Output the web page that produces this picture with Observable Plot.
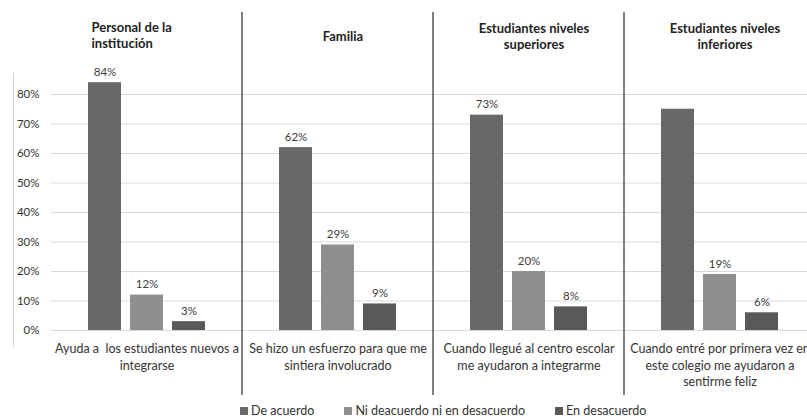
<!DOCTYPE html>
<html>
<head>
<meta charset="utf-8">
<script src="https://cdn.jsdelivr.net/npm/d3@7"></script>
<script src="https://cdn.jsdelivr.net/npm/@observablehq/plot@0.6"></script>
<style>
  html, body { margin: 0; padding: 0; background: #fff; overflow: hidden; width: 807px; height: 420px; }
  #wrap { position: relative; width: 815px; height: 420px; font-family: Lato, "Open Sans", sans-serif; }
  #wrap svg text { white-space: pre; }
  .frame-edge { position: absolute; left: 13px; top: 73px; height: 274px; border-left: 1px solid #d4d4d4; }
  .legend { position: absolute; left: 240px; top: 403px; display: flex; font-size: 12.5px; color: #333; }
  .legend span { display: flex; align-items: center; margin-right: 30px; }
  .legend i { display: inline-block; width: 8px; height: 8px; margin-right: 3px; }
</style>
</head>
<body>
<div id="wrap"><div class="frame-edge"></div></div>
<script>
// Group headers (who helped) and the survey statement asked in each group
const groups = ["Personal de la\ninstitución", "Familia", "Estudiantes niveles\nsuperiores", "Estudiantes niveles\ninferiores"];
const statements = [
  "Ayuda a  los estudiantes nuevos a\nintegrarse",
  "Se hizo un esfuerzo para que me\nsintiera involucrado",
  "Cuando llegué al centro escolar\nme ayudaron a integrarme",
  "Cuando entré por primera vez en\neste colegio me ayudaron a\nsentirme feliz"
];
const responses = ["De acuerdo", "Ni deacuerdo ni en desacuerdo", "En desacuerdo"];
const colors = ["#68686b", "#8f8f91", "#59595b"];

// Percentages per group, one array per response
const deAcuerdo = [84, 62, 73, 75];
const niDeacuerdo = [12, 29, 20, 19];
const enDesacuerdo = [3, 9, 8, 6];
// The last group's "De acuerdo" bar carries no value label
const unlabeled = [[3, "De acuerdo"]];

const yTicks = [0, 10, 20, 30, 40, 50, 60, 70, 80];

const series = [deAcuerdo, niDeacuerdo, enDesacuerdo];
const rows = [];
groups.forEach((g, i) => {
  responses.forEach((r, j) => {
    rows.push({
      group: g, response: r, value: series[j][i],
      labeled: !unlabeled.some(([gi, rr]) => gi === i && rr === r)
    });
  });
});
const groupRows = groups.map((g, i) => ({group: g, statement: statements[i]}));

const chart = Plot.plot({
  width: 815,
  height: 400,
  marginLeft: 50,
  marginRight: 0,
  marginTop: 64.5,
  marginBottom: 70,
  style: {fontFamily: "Lato, 'Open Sans', sans-serif", fontSize: "11.5px", color: "#333", background: "#fff", overflow: "visible"},
  fx: {domain: groups, padding: 0, axis: null},
  x: {domain: responses, paddingInner: 0.224, paddingOuter: 0.859, axis: null},
  y: {domain: [0, 90], axis: null},
  color: {domain: responses, range: colors},
  marks: [
    Plot.gridY(yTicks, {stroke: "#d9d9d9", strokeOpacity: 1}),
    Plot.axisY(yTicks, {facetAnchor: "left", tickSize: 0, tickPadding: 12, tickFormat: d => d + "%", label: null, fill: "#333", fontSize: 11.5}),
    Plot.barY(rows, {fx: "group", x: "response", y: "value", fill: "response"}),
    Plot.text(rows.filter(d => d.labeled), {fx: "group", x: "response", y: "value", text: d => d.value + "%", dy: -10.5, fill: "#3c3c3c", fontSize: 11.5}),
    // headers: the first one is set flush left, the others centred
    Plot.text(groupRows.slice(0, 1), {fx: "group", text: "group", frameAnchor: "top-left", textAnchor: "start", lineAnchor: "middle", dx: 40, dy: -30.5, lineHeight: 1.25, fontWeight: "bold", fontSize: 13, fill: "#222"}),
    Plot.text(groupRows.slice(1), {fx: "group", text: "group", frameAnchor: "top", lineAnchor: "middle", dx: 5, dy: -29.5, lineHeight: 1.25, fontWeight: "bold", fontSize: 13, fill: "#222"}),
    Plot.text(groupRows, {fx: "group", text: "statement", frameAnchor: "bottom", lineAnchor: "top", dy: 11, lineHeight: 1.32, fontSize: 12.5, fill: "#333"})
  ]
});

// Vertical dividers between the groups, placed with the fx scale
const fx = chart.scale("fx");
const svg = d3.select(chart);
groups.slice(0, -1).forEach(g => {
  const x = fx.apply(g) + fx.bandwidth;
  svg.append("line")
    .attr("x1", x).attr("x2", x)
    .attr("y1", 12).attr("y2", 395)
    .attr("stroke", "#4a4a4a").attr("stroke-width", 1.4);
});

const wrap = document.getElementById("wrap");
wrap.appendChild(chart);

const legend = document.createElement("div");
legend.className = "legend";
responses.forEach((r, i) => {
  const item = document.createElement("span");
  item.innerHTML = `<i style="background:${colors[i]}"></i>${r}`;
  legend.appendChild(item);
});
wrap.appendChild(legend);
</script>
</body>
</html>
